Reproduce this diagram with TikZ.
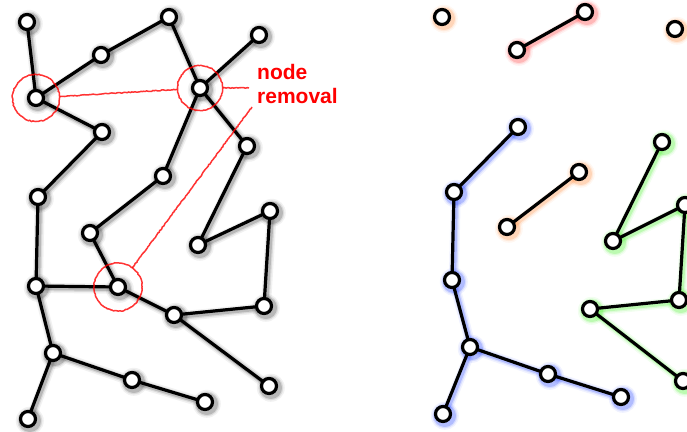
\documentclass[tikz,border=0pt]{standalone}
\usepackage{fontspec}
\newfontfamily\labelfont{Liberation Sans}
\usetikzlibrary{calc,decorations.pathmorphing}

\pgfdeclarelayer{shade}
\pgfdeclarelayer{edges}
\pgfsetlayers{shade,edges,main}

\definecolor{glowgray}{RGB}{60,60,60}
\definecolor{gloworange}{RGB}{255,140,60}
\definecolor{glowred}{RGB}{255,60,60}
\definecolor{glowblue}{RGB}{40,70,255}
\definecolor{glowgreen}{RGB}{70,240,40}
\definecolor{annotred}{RGB}{255,0,0}

\tikzset{
  vert/.style={circle, draw=black, fill=white, line width=3.2pt, minimum size=15pt, inner sep=0pt},
  edge/.style={draw=black, line width=3.2pt},
  annot/.style={draw=annotred, line width=1.5pt, opacity=0.8,
    decorate, decoration={random steps, segment length=1.5pt, amplitude=0.45pt}},
  tag/.style={text=annotred, inner sep=0pt, align=left, anchor=north west,
    font=\labelfont\bfseries\fontsize{21}{24}\selectfont}
}

% soft halo under an edge list and a node list, shifted down-right
\newcommand\halo[3]{%
  \edef\haloedges{#2}%
  \edef\halonodes{#3}%
  \foreach \w/\o in {10/0.07, 7/0.12, 4.5/0.22} {%
    \foreach \a/\b in \haloedges {%
      \draw[draw=#1, opacity=\o, line width=\w pt, line cap=round]
        ([shift={(1.8,1.8)}]\a.center) -- ([shift={(1.8,1.8)}]\b.center);
    }%
    \foreach \n in \halonodes {%
      \fill[#1, opacity=\o] ([shift={(1.8,1.8)}]\n.center) circle ({9+\w/2});
    }%
  }%
}

\begin{document}
\begin{tikzpicture}[x=1pt, y=-1pt]
\useasboundingbox (0,0) rectangle (687,431);
\clip (0,0) rectangle (687,431);

% ---------- full graph ----------
\node[vert] (lA) at (27,22) {};
\node[vert] (lB) at (36,98) {};
\node[vert] (lC) at (101,55) {};
\node[vert] (lD) at (169,17) {};
\node[vert] (lE) at (200,88) {};
\node[vert] (lF) at (259,35) {};
\node[vert] (lG) at (102,132) {};
\node[vert] (lH) at (247,146) {};
\node[vert] (lI) at (163,176) {};
\node[vert] (lJ) at (38,197) {};
\node[vert] (lK) at (270,211) {};
\node[vert] (lL) at (90,233) {};
\node[vert] (lM) at (198,245) {};
\node[vert] (lN) at (36,286) {};
\node[vert] (lO) at (118,287) {};
\node[vert] (lP) at (174,315) {};
\node[vert] (lQ) at (264,306) {};
\node[vert] (lR) at (53,353) {};
\node[vert] (lS) at (132,380) {};
\node[vert] (lT) at (269,386) {};
\node[vert] (lU) at (205,402) {};
\node[vert] (lV) at (28,419) {};

\def\leftedges{lA/lB, lB/lC, lC/lD, lD/lE, lE/lF, lB/lG, lG/lJ, lE/lI, lI/lL,
  lE/lH, lH/lM, lM/lK, lK/lQ, lQ/lP, lL/lO, lO/lN, lO/lP, lP/lT, lJ/lN,
  lN/lR, lR/lS, lS/lU, lR/lV}

\begin{pgfonlayer}{shade}
  \halo{glowgray}{\leftedges}{lA,lB,lC,lD,lE,lF,lG,lH,lI,lJ,lK,lL,lM,lN,lO,lP,lQ,lR,lS,lT,lU,lV}
\end{pgfonlayer}
\begin{pgfonlayer}{edges}
  \foreach \a/\b in \leftedges { \draw[edge] (\a.center) -- (\b.center); }
\end{pgfonlayer}

% ---------- removal marks ----------
\draw[annot] (lB) circle (23.5);
\draw[annot] (lE) circle (22.5);
\draw[annot] (lO) circle (24);
\node[tag] (lbl) at (257,64) {node\\removal};
\coordinate (lblin) at (249,88);
\coordinate (lbltip) at (252,107);
\draw[annot] ($(lB)!24pt!(lE)$) -- ($(lE)!23pt!(lB)$);
\draw[annot] ($(lE)!23pt!(lblin)$) -- (lblin);
\draw[annot] (lbltip) -- ($(lO)!24pt!(lbltip)$);

% ---------- graph after removal ----------
\node[vert] (rA) at (442,17) {};
\node[vert] (rC) at (517,50) {};
\node[vert] (rD) at (585,12) {};
\node[vert] (rF) at (675,29) {};
\node[vert] (rG) at (518,127) {};
\node[vert] (rH) at (662,142) {};
\node[vert] (rI) at (579,172) {};
\node[vert] (rJ) at (454,192) {};
\node[vert] (rK) at (685,205) {};
\node[vert] (rL) at (507,227) {};
\node[vert] (rM) at (613,241) {};
\node[vert] (rN) at (452,280) {};
\node[vert] (rP) at (590,309) {};
\node[vert] (rQ) at (679,300) {};
\node[vert] (rR) at (470,347) {};
\node[vert] (rS) at (548,374) {};
\node[vert] (rT) at (683,381) {};
\node[vert] (rU) at (621,397) {};
\node[vert] (rV) at (443,414) {};

\def\redpart{rC/rD}
\def\bluepart{rG/rJ, rJ/rN, rN/rR, rR/rS, rS/rU, rR/rV}
\def\orangepart{rI/rL}
\def\greenpart{rH/rM, rM/rK, rK/rQ, rQ/rP, rP/rT}

\begin{pgfonlayer}{shade}
  \halo{gloworange}{}{rA,rF}
  \halo{glowred}{\redpart}{rC,rD}
  \halo{glowblue}{\bluepart}{rG,rJ,rN,rR,rS,rU,rV}
  \halo{gloworange}{\orangepart}{rI,rL}
  \halo{glowgreen}{\greenpart}{rH,rM,rK,rQ,rP,rT}
\end{pgfonlayer}
\begin{pgfonlayer}{edges}
  \foreach \a/\b in {rC/rD, rG/rJ, rJ/rN, rN/rR, rR/rS, rS/rU, rR/rV, rI/rL,
    rH/rM, rM/rK, rK/rQ, rQ/rP, rP/rT} { \draw[edge] (\a.center) -- (\b.center); }
\end{pgfonlayer}
\end{tikzpicture}
\end{document}
